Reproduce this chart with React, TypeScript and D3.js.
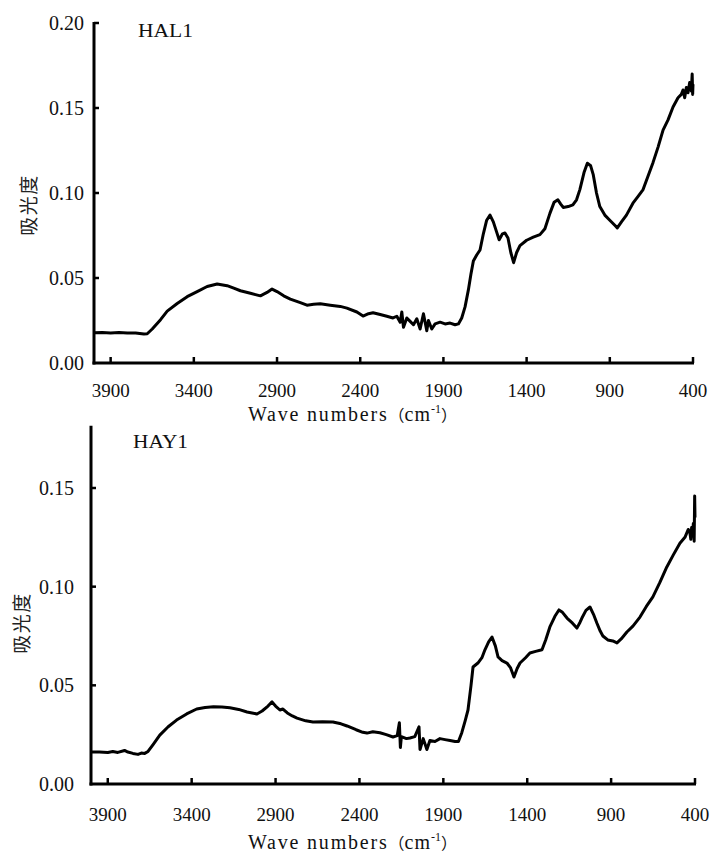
import React from "react";
import * as d3 from "d3";

// ---------- Data ----------
const xTickValues = [3900, 3400, 2900, 2400, 1900, 1400, 900, 400];
const yTicksTop = [0, 0.05, 0.1, 0.15, 0.2];
const yTicksBottom = [0, 0.05, 0.1, 0.15];

const halWave = [
  4000, 3950, 3900, 3850, 3800, 3750, 3700, 3680, 3650, 3600, 3560, 3500, 3440, 3380, 3320, 3260,
  3200, 3160, 3120, 3060, 3000, 2960, 2930, 2900, 2860, 2820, 2760, 2720, 2680, 2640, 2580, 2520,
  2480, 2420, 2383, 2350, 2323, 2280, 2240, 2203, 2180, 2160, 2150, 2140, 2120, 2100, 2080, 2060,
  2040, 2020, 2000, 1990, 1970, 1950, 1920, 1890, 1860, 1830, 1810, 1790, 1770, 1750, 1735, 1720,
  1700, 1680, 1660, 1640, 1620, 1600, 1580, 1565, 1545, 1530, 1512, 1495, 1478, 1460, 1440, 1400,
  1360, 1320, 1290, 1260, 1235, 1212, 1195, 1180, 1150, 1122, 1100, 1080, 1055, 1035, 1015, 1000,
  980, 960, 930, 900, 870, 855, 830, 800, 761, 730, 700, 670, 640, 610, 580, 550,
  520, 490, 470, 460, 450, 440, 430, 420, 410, 405, 402, 400,
];
const halAbs = [
  0.0178, 0.018, 0.0177, 0.0179, 0.0176, 0.0177, 0.017, 0.0172, 0.02, 0.0255, 0.0305, 0.035, 0.039, 0.042, 0.045, 0.0465,
  0.0455, 0.044, 0.0425, 0.041, 0.0395, 0.0415, 0.0435, 0.042, 0.0395, 0.0376, 0.0355, 0.034, 0.0345, 0.0348, 0.034, 0.0333,
  0.0323, 0.03, 0.0276, 0.029, 0.0296, 0.0285, 0.0275, 0.0265, 0.0275, 0.024, 0.03, 0.021, 0.0265, 0.0245, 0.0225, 0.026,
  0.02, 0.029, 0.019, 0.025, 0.02, 0.023, 0.024, 0.023, 0.0235, 0.0225, 0.023, 0.0265, 0.033, 0.043, 0.052, 0.06,
  0.0635, 0.0665, 0.076, 0.084, 0.087, 0.083, 0.077, 0.0725, 0.076, 0.0765, 0.0735, 0.065, 0.059, 0.065, 0.069, 0.0722,
  0.074, 0.0755, 0.079, 0.088, 0.0945, 0.096, 0.0935, 0.0915, 0.092, 0.093, 0.096, 0.102, 0.112, 0.1175, 0.116, 0.111,
  0.1, 0.092, 0.087, 0.084, 0.081, 0.0795, 0.083, 0.087, 0.094, 0.098, 0.102, 0.11, 0.118, 0.127, 0.137, 0.143,
  0.1506, 0.156, 0.158, 0.1606, 0.156, 0.162, 0.159, 0.165, 0.16, 0.17, 0.158, 0.164,
];

const hayWave = [
  4000, 3950, 3900, 3870, 3840, 3800, 3780, 3750, 3720, 3700, 3680, 3660, 3630, 3590, 3540, 3490,
  3430, 3370, 3320, 3270, 3220, 3172, 3120, 3070, 3040, 3011, 2980, 2945, 2921, 2900, 2874, 2856,
  2830, 2800, 2772, 2720, 2677, 2620, 2558, 2510, 2474, 2420, 2380, 2355, 2320, 2278, 2240, 2200,
  2175, 2162, 2156, 2150, 2120, 2099, 2070, 2045, 2039, 2020, 1998, 1980, 1950, 1920, 1890, 1860,
  1830, 1810, 1790, 1770, 1753, 1735, 1723, 1694, 1670, 1652, 1630, 1610, 1590, 1574, 1550, 1521,
  1500, 1479, 1460, 1443, 1410, 1384, 1350, 1312, 1290, 1265, 1235, 1211, 1190, 1163, 1130, 1104,
  1085, 1074, 1050, 1026, 1005, 985, 965, 949, 920, 890, 865, 840, 806, 770, 728, 690,
  651, 610, 568, 530, 490, 460, 440, 431, 425, 420, 415, 410, 405, 402, 400,
];
const hayAbs = [
  0.0162, 0.0162, 0.016, 0.0165, 0.016, 0.017, 0.0162, 0.0155, 0.015, 0.0157, 0.0155, 0.0165, 0.02, 0.0248, 0.029, 0.0324,
  0.0355, 0.038, 0.0388, 0.0392, 0.039, 0.0386, 0.0378, 0.0365, 0.036, 0.0355, 0.037, 0.0395, 0.0416, 0.0395, 0.0375, 0.038,
  0.036, 0.0345, 0.0334, 0.032, 0.0314, 0.0316, 0.0314, 0.0305, 0.0294, 0.0275, 0.0262, 0.0258, 0.0265, 0.026, 0.025, 0.0238,
  0.0245, 0.031, 0.0185, 0.024, 0.023, 0.0233, 0.024, 0.029, 0.0175, 0.023, 0.0175, 0.022, 0.0215, 0.023, 0.0225, 0.022,
  0.0215, 0.0215, 0.026, 0.032, 0.0375, 0.05, 0.0593, 0.0613, 0.064, 0.068, 0.072, 0.0745, 0.07, 0.0644, 0.0625, 0.0613,
  0.059, 0.0542, 0.0585, 0.0613, 0.064, 0.0664, 0.0672, 0.068, 0.073, 0.0796, 0.085, 0.0882, 0.087, 0.0841, 0.0815, 0.079,
  0.082, 0.0841, 0.088, 0.0897, 0.086, 0.0816, 0.0775, 0.075, 0.073, 0.0725, 0.0715, 0.0735, 0.077, 0.08, 0.0846, 0.09,
  0.0948, 0.102, 0.11, 0.116, 0.122, 0.125, 0.129, 0.1277, 0.124, 0.13, 0.126, 0.132, 0.123, 0.146, 0.135,
];

// ---------- Panel ----------
type PanelProps = {
  waves: number[];
  abs: number[];
  label: string;
  xLeft: number;
  xRight: number;
  yZero: number;
  yRefVal: number;
  yRefPx: number;
  yTopVal: number;
  yTicks: number[];
  yLabelX: number;
  ylabX: number;
  ylabY: number;
  labelX: number;
  labelY: number;
  labelW: number;
  tickLabDy: number;
  titleDy: number;
};

const serif = "'Liberation Serif', 'Times New Roman', serif";
const cjk = "'Noto Sans CJK SC', sans-serif";

function Panel(p: PanelProps) {
  const x = d3.scaleLinear().domain([4000, 400]).range([p.xLeft, p.xRight]);
  const y = d3.scaleLinear().domain([0, p.yRefVal]).range([p.yZero, p.yRefPx]);
  const pts = p.waves.map((w, i) => [w, p.abs[i]] as [number, number]);
  const line = d3
    .line<[number, number]>()
    .x((d) => x(d[0]))
    .y((d) => y(d[1]));
  const y0 = y(0);
  const yTop = y(p.yTopVal);
  return (
    <g>
      <path d={line(pts) || ""} fill="none" stroke="#000" strokeWidth={3} strokeLinejoin="round" />
      {/* axes */}
      <line x1={p.xLeft} x2={p.xLeft} y1={yTop - 1} y2={y0 + 1.5} stroke="#000" strokeWidth={3} />
      <line x1={p.xLeft - 1.5} x2={p.xRight + 1} y1={y0} y2={y0} stroke="#000" strokeWidth={3} />
      {p.yTicks.map((t) => (
        <g key={"y" + t}>
          {t > 0 && <line x1={p.xLeft} x2={p.xLeft + 5} y1={y(t)} y2={y(t)} stroke="#000" strokeWidth={2.5} />}
          <text x={p.yLabelX} y={y(t) + 7} textAnchor="end" fontFamily={serif} fontSize={20} fill="#111">
            {t.toFixed(2)}
          </text>
        </g>
      ))}
      {xTickValues.map((t) => (
        <g key={"x" + t}>
          <line x1={x(t)} x2={x(t)} y1={y0} y2={y0 - 6} stroke="#000" strokeWidth={2.5} />
          <text x={x(t)} y={y0 + p.tickLabDy} textAnchor="middle" fontFamily={serif} fontSize={19} fill="#111">
            {t}
          </text>
        </g>
      ))}
      <text x={248} y={y0 + p.titleDy} fontFamily={serif} fontSize={20} fill="#111" letterSpacing={1.8}>
        Wave numbers
        <tspan fontFamily={cjk} fontSize={16} letterSpacing={0}>（</tspan>
        <tspan letterSpacing={1}>cm</tspan>
        <tspan dy={-8} fontSize={12} letterSpacing={0}>-1</tspan>
        <tspan dy={8} fontFamily={cjk} fontSize={16} letterSpacing={0}>）</tspan>
      </text>
      <text
        transform={`translate(${p.ylabX},${p.ylabY}) rotate(-90)`}
        textAnchor="middle"
        fontFamily={cjk}
        fontSize={19}
        letterSpacing={1.5}
        fill="#222"
      >
        吸光度
      </text>
      <text x={p.labelX} y={p.labelY} fontFamily={serif} fontSize={19} fill="#111" textLength={p.labelW} lengthAdjust="spacingAndGlyphs">
        {p.label}
      </text>
    </g>
  );
}

export default function App() {
  return (
    <svg width={713} height={856} style={{ position: "absolute", left: 0, top: 0, background: "#fff" }}>
      <rect width={713} height={856} fill="#fff" />
      <Panel
        waves={halWave}
        abs={halAbs}
        label="HAL1"
        xLeft={94}
        xRight={693}
        yZero={363}
        yRefVal={0.2}
        yRefPx={23}
        yTopVal={0.2}
        yTicks={yTicksTop}
        yLabelX={84}
        ylabX={36}
        ylabY={205}
        labelX={138}
        labelY={37}
        labelW={55}
        tickLabDy={34}
        titleDy={58}
      />
      <Panel
        waves={hayWave}
        abs={hayAbs}
        label="HAY1"
        xLeft={91}
        xRight={695}
        yZero={784}
        yRefVal={0.15}
        yRefPx={488}
        yTopVal={0.181}
        yTicks={yTicksBottom}
        yLabelX={74}
        ylabX={29}
        ylabY={623}
        labelX={133}
        labelY={448}
        labelW={55}
        tickLabDy={37}
        titleDy={65}
      />
    </svg>
  );
}
